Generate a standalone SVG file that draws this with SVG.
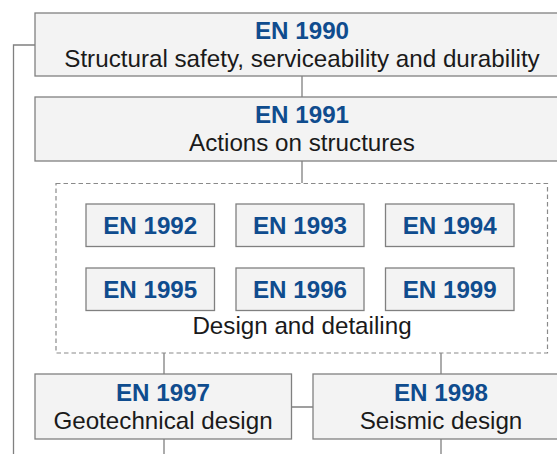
<svg xmlns="http://www.w3.org/2000/svg" width="557" height="454" viewBox="0 0 557 454">
<style>
.box{fill:#f3f3f3;stroke:#808080;stroke-width:1.3}
.t{font-family:"Liberation Sans",Arial,sans-serif;font-size:24.2px;text-anchor:middle}
.h{font-weight:bold;fill:#0f4c8e}
.b{fill:#1a1a1a}
.c{fill:none;stroke:#808080;stroke-width:1.3}
</style>
<rect width="557" height="454" fill="#ffffff"/>
<g id="connectors">
<path class="c" d="M302 76V97M302 161V183M164 353V374M441 353V374M291.5 407H313M164 439V454M441 439V454M35 45H13.5V454"/>
</g>
<g id="en1990"><rect class="box" x="35" y="13" width="540" height="63"/><text class="t h" x="302" y="39">EN 1990</text><text class="t b" x="302" y="67">Structural safety, serviceability and durability</text></g>
<g id="en1991"><rect class="box" x="35" y="97" width="540" height="64"/><text class="t h" x="302" y="123">EN 1991</text><text class="t b" x="302" y="151">Actions on structures</text></g>
<g id="design"><rect x="56" y="183.5" width="491.5" height="169.5" fill="none" stroke="#8a8a8a" stroke-width="1.2" stroke-dasharray="4.5,3"/><text class="t b" x="302" y="334">Design and detailing</text></g>
<g id="en1992"><rect class="box" x="86" y="204" width="128.5" height="42.5"/><text class="t h" x="150.2" y="234">EN 1992</text></g>
<g id="en1993"><rect class="box" x="236" y="204" width="128" height="42.5"/><text class="t h" x="300" y="234">EN 1993</text></g>
<g id="en1994"><rect class="box" x="385.5" y="204" width="128.5" height="42.5"/><text class="t h" x="449.7" y="234">EN 1994</text></g>
<g id="en1995"><rect class="box" x="86" y="268" width="128.5" height="42.5"/><text class="t h" x="150.2" y="298">EN 1995</text></g>
<g id="en1996"><rect class="box" x="236" y="268" width="128" height="42.5"/><text class="t h" x="300" y="298">EN 1996</text></g>
<g id="en1999"><rect class="box" x="385.5" y="268" width="128.5" height="42.5"/><text class="t h" x="449.7" y="298">EN 1999</text></g>
<g id="en1997"><rect class="box" x="35" y="374" width="256.5" height="65"/><text class="t h" x="163" y="401">EN 1997</text><text class="t b" x="163" y="429">Geotechnical design</text></g>
<g id="en1998"><rect class="box" x="313" y="374" width="260" height="65"/><text class="t h" x="441" y="401">EN 1998</text><text class="t b" x="441" y="429">Seismic design</text></g>
</svg>
